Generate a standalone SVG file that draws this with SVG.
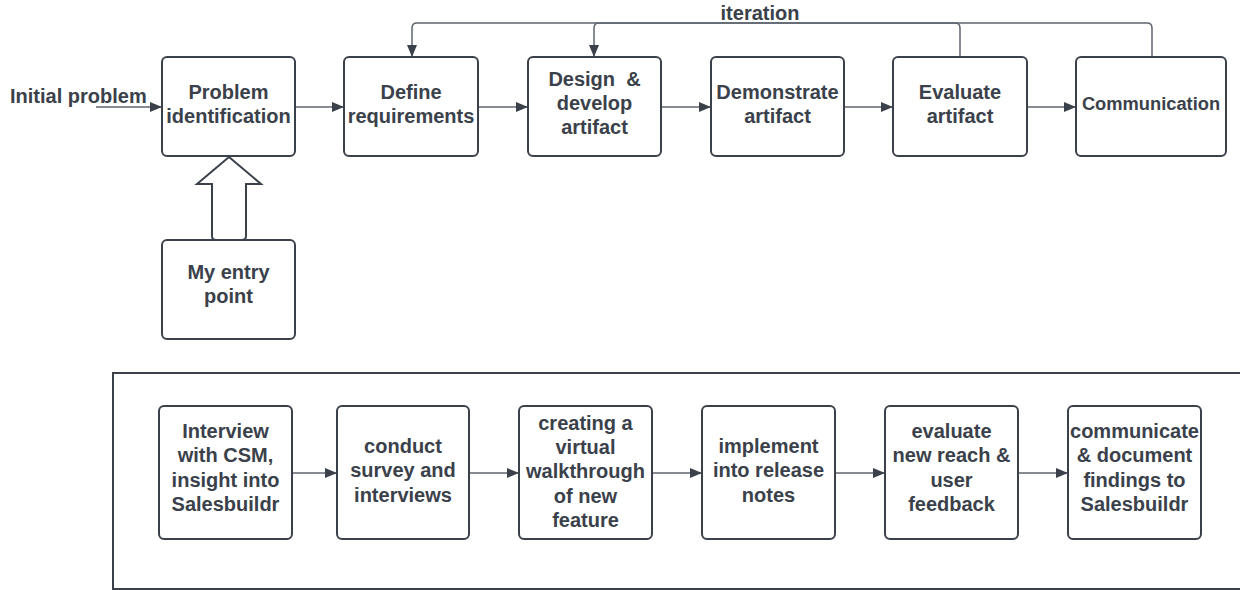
<svg xmlns="http://www.w3.org/2000/svg" width="1240" height="590" viewBox="0 0 1240 590">
  <defs>
    <style>
      .box { fill: #ffffff; stroke: #3a414a; stroke-width: 2; }
      .lbl { font-family: "Liberation Sans", Arial, sans-serif; font-weight: bold; font-size: 20px; fill: #3a414a; text-anchor: middle; }
      .free { text-anchor: start; }
      .edge { fill: none; stroke: #5f6670; stroke-width: 1.5; }
      .frame { fill: none; stroke: #3a414a; stroke-width: 2; }
    </style>
    <marker id="head" markerUnits="userSpaceOnUse" markerWidth="12" markerHeight="10" refX="12" refY="5" orient="auto">
      <path d="M0,0 L12,5 L0,10 z" fill="#3a414a"/>
    </marker>
  </defs>
  <rect width="1240" height="590" fill="#ffffff"/>

  <!-- free labels -->
  <text class="lbl free" x="10" y="103">Initial problem</text>
  <text class="lbl" x="760" y="20">iteration</text>

  <!-- connectors -->
  <g id="connectors">
    <path class="edge" d="M96,107 H162" marker-end="url(#head)"/>
    <path class="edge" d="M295,107 H344" marker-end="url(#head)"/>
    <path class="edge" d="M478,107 H528" marker-end="url(#head)"/>
    <path class="edge" d="M661,107 H711" marker-end="url(#head)"/>
    <path class="edge" d="M844,107 H893" marker-end="url(#head)"/>
    <path class="edge" d="M1027,107 H1076" marker-end="url(#head)"/>
    <path class="edge" d="M960,56 V28 Q960,23 955,23 H599 Q594,23 594,28 V57" marker-end="url(#head)"/>
    <path class="edge" d="M1152,56 V28 Q1152,23 1147,23 H417 Q412,23 412,28 V57" marker-end="url(#head)"/>
    <path class="edge" d="M292,473 H337" marker-end="url(#head)"/>
    <path class="edge" d="M469,473 H519" marker-end="url(#head)"/>
    <path class="edge" d="M652,473 H702" marker-end="url(#head)"/>
    <path class="edge" d="M835,473 H885" marker-end="url(#head)"/>
    <path class="edge" d="M1018,473 H1068" marker-end="url(#head)"/>
    <!-- hollow block arrow from entry point up to problem identification -->
    <path class="frame" fill="#ffffff" d="M229,157 L261,184 H246 V236 Q246,240 242,240 H216 Q212,240 212,236 V184 H197 Z"/>
  </g>

  <!-- top process -->
  <g id="problem-identification">
    <rect class="box" x="162" y="57" width="133" height="99" rx="5"/>
    <text class="lbl" x="228.5" y="99">Problem</text>
    <text class="lbl" x="228.5" y="123">identification</text>
  </g>
  <g id="define-requirements">
    <rect class="box" x="344" y="57" width="134" height="99" rx="5"/>
    <text class="lbl" x="411" y="99">Define</text>
    <text class="lbl" x="411" y="123">requirements</text>
  </g>
  <g id="design-develop">
    <rect class="box" x="528" y="57" width="133" height="99" rx="5"/>
    <text class="lbl" x="594.5" y="86" xml:space="preserve">Design  &amp;</text>
    <text class="lbl" x="594.5" y="110">develop</text>
    <text class="lbl" x="594.5" y="134">artifact</text>
  </g>
  <g id="demonstrate-artifact">
    <rect class="box" x="711" y="57" width="133" height="99" rx="5"/>
    <text class="lbl" x="777.5" y="99">Demonstrate</text>
    <text class="lbl" x="777.5" y="123">artifact</text>
  </g>
  <g id="evaluate-artifact">
    <rect class="box" x="893" y="57" width="134" height="99" rx="5"/>
    <text class="lbl" x="960" y="99">Evaluate</text>
    <text class="lbl" x="960" y="123">artifact</text>
  </g>
  <g id="communication">
    <rect class="box" x="1076" y="57" width="150" height="99" rx="5"/>
    <text class="lbl" x="1151" y="110" style="font-size:18.3px">Communication</text>
  </g>
  <g id="entry-point">
    <rect class="box" x="162" y="240" width="133" height="99" rx="5"/>
    <text class="lbl" x="228.5" y="279">My entry</text>
    <text class="lbl" x="228.5" y="303">point</text>
  </g>

  <!-- applied steps panel -->
  <g id="applied-steps">
    <path class="frame" d="M1241,373 H113 V589 H1241"/>
  </g>
  <g id="step-interview">
    <rect class="box" x="159" y="406" width="133" height="133" rx="5"/>
    <text class="lbl" x="225.5" y="438">Interview</text>
    <text class="lbl" x="225.5" y="462">with CSM,</text>
    <text class="lbl" x="225.5" y="487">insight into</text>
    <text class="lbl" x="225.5" y="511">Salesbuildr</text>
  </g>
  <g id="step-survey">
    <rect class="box" x="337" y="406" width="132" height="133" rx="5"/>
    <text class="lbl" x="403" y="453">conduct</text>
    <text class="lbl" x="403" y="477">survey and</text>
    <text class="lbl" x="403" y="502">interviews</text>
  </g>
  <g id="step-walkthrough">
    <rect class="box" x="519" y="406" width="133" height="133" rx="5"/>
    <text class="lbl" x="585.5" y="430">creating a</text>
    <text class="lbl" x="585.5" y="454">virtual</text>
    <text class="lbl" x="585.5" y="478">walkthrough</text>
    <text class="lbl" x="585.5" y="503">of new</text>
    <text class="lbl" x="585.5" y="527">feature</text>
  </g>
  <g id="step-release-notes">
    <rect class="box" x="702" y="406" width="133" height="133" rx="5"/>
    <text class="lbl" x="768.5" y="453">implement</text>
    <text class="lbl" x="768.5" y="477">into release</text>
    <text class="lbl" x="768.5" y="502">notes</text>
  </g>
  <g id="step-evaluate">
    <rect class="box" x="885" y="406" width="133" height="133" rx="5"/>
    <text class="lbl" x="951.5" y="438">evaluate</text>
    <text class="lbl" x="951.5" y="462">new reach &amp;</text>
    <text class="lbl" x="951.5" y="487">user</text>
    <text class="lbl" x="951.5" y="511">feedback</text>
  </g>
  <g id="step-communicate">
    <rect class="box" x="1068" y="406" width="133" height="133" rx="5"/>
    <text class="lbl" x="1134.5" y="438">communicate</text>
    <text class="lbl" x="1134.5" y="462">&amp; document</text>
    <text class="lbl" x="1134.5" y="487">findings to</text>
    <text class="lbl" x="1134.5" y="511">Salesbuildr</text>
  </g>
</svg>
